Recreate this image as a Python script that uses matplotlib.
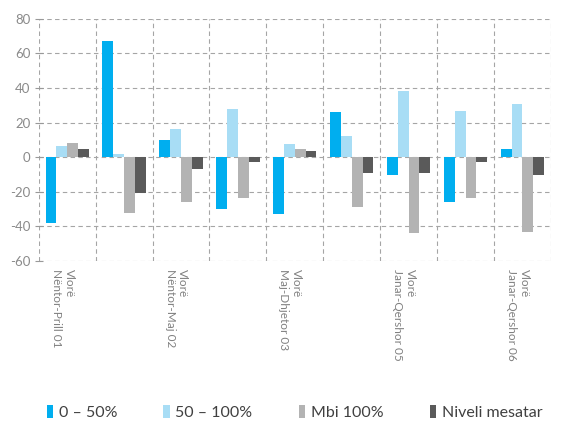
import matplotlib
matplotlib.use("Agg")
import matplotlib.pyplot as plt
import numpy as np

categories = ["Vlorë\nNëntor-Prill 01", "", "Vlorë\nNëntor-Maj 02", "", "Vlorë\nMaj-Dhjetor 03",
              "", "Vlorë\nJanar-Qershor 05", "", "Vlorë\nJanar-Qershor 06"]
series_names = ["0 – 50%", "50 – 100%", "Mbi 100%", "Niveli mesatar"]
s_0_50 = [-38, 67, 10, -30, -33, 26, -10, -26, 5]
s_50_100 = [6.5, 2, 16.5, 28, 7.5, 12, 38.5, 27, 31]
s_mbi100 = [8, -32.5, -26, -23.5, 5, -28.5, -44, -23.5, -43]
s_niveli = [5, -20.5, -6.5, -2.5, 3.5, -9, -9, -2.5, -10]
colors = ["#00AEEF", "#A8DDF5", "#B3B3B3", "#5A5A5A"]
yticks = [-60, -40, -20, 0, 20, 40, 60, 80]

plt.rcParams['font.family'] = ['Lato', 'DejaVu Sans']
fig = plt.figure(figsize=(5.61, 4.28), dpi=100)
ax = fig.add_axes([0.069, 0.39, 0.913, 0.566])

x = np.arange(len(categories))
w = 0.19
all_series = [s_0_50, s_50_100, s_mbi100, s_niveli]
for i, (vals, c, name) in enumerate(zip(all_series, colors, series_names)):
    ax.bar(x + (i - 1.5) * w, vals, width=w, color=c, label=name, zorder=3, linewidth=0)

ax.set_xlim(-0.5, len(categories) - 0.5)
ax.set_ylim(-60, 80)
ax.set_yticks(yticks)
ax.set_yticklabels([str(v) for v in yticks])

ax.set_xticks(x - 0.08)
ax.set_xticklabels(categories, rotation=270, ha='center', va='top', multialignment='left',
                   fontsize=8.5, color='#808080')
ax.set_xticks(np.arange(len(categories) + 1) - 0.5, minor=True)
ax.tick_params(axis='x', which='both', length=0, pad=6)
ax.tick_params(axis='y', which='major', direction='inout', length=6, color='#999999',
               labelsize=9.5, labelcolor='#8a8a8a', pad=3)

ax.grid(True, axis='y', which='major', linestyle=(0, (4, 3)), color='#a5a5a5', linewidth=0.8, zorder=0)
ax.grid(True, axis='x', which='minor', linestyle=(0, (4, 3)), color='#a5a5a5', linewidth=0.8, zorder=0)
ax.grid(False, axis='x', which='major')
for s in ax.spines.values():
    s.set_visible(False)

leg = fig.legend(loc='center', bbox_to_anchor=(0.525, 0.037), ncol=4, frameon=False,
                 fontsize=11.5, handlelength=0.4, handleheight=0.9,
                 handletextpad=0.35, columnspacing=2.9, labelcolor='#404040')

fig.savefig("out.png", dpi=100)
